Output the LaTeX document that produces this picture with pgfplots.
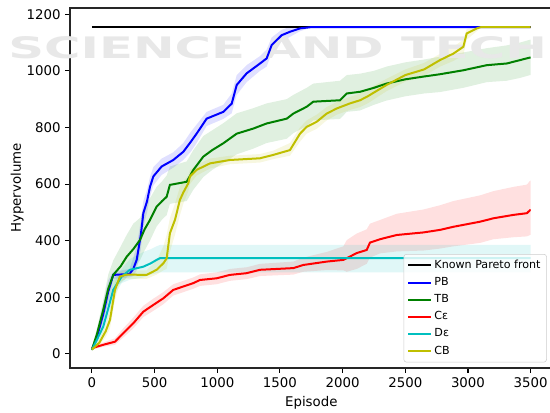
\documentclass[border=0pt]{standalone}
\usepackage{pgfplots}
\pgfplotsset{compat=1.18}
\usepgfplotslibrary{fillbetween}
\usepackage{fontspec}
\setmainfont{DejaVu Sans}
\definecolor{mplb}{rgb}{0,0,1}
\definecolor{mplg}{rgb}{0,0.5,0}
\definecolor{mplr}{rgb}{1,0,0}
\definecolor{mplc}{rgb}{0,0.75,0.75}
\definecolor{mply}{rgb}{0.75,0.75,0}
\begin{document}
\begin{tikzpicture}
\node[anchor=south west, inner sep=0pt, text=black!9] at (-46.5pt,231.5pt) {\resizebox{404pt}{16.5pt}{\bfseries SCIENCE AND TECH}};
\begin{axis}[
  scale only axis, width=361.9pt, height=270pt,
  xmin=-175, xmax=3675, ymin=-50, ymax=1222,
  xtick={0,500,...,3500}, ytick={0,200,...,1200},
  /pgf/number format/assume math mode=true,
  /pgf/number format/set thousands separator={},
  tick label style={font=\fontsize{10}{12}\selectfont},
  label style={font=\fontsize{10}{12}\selectfont},
  xlabel={Episode}, ylabel={Hypervolume}, ylabel shift=-4.5pt,
  tick align=outside, major tick length=3.5pt,
  xtick pos=bottom, ytick pos=left,
  axis line style={line width=0.8pt, black!85},
  every tick/.style={black, line width=0.8pt},
  legend style={at={(0.988,0.0155)}, anchor=south east, draw=black!20, rounded corners=2pt,
     fill=white, fill opacity=0.8, text opacity=1, font=\fontsize{8.33}{10}\selectfont,
     row sep=1.2pt, inner sep=2.5pt},
  legend image code/.code={\draw[#1] (0pt,0pt) -- (17pt,0pt);},
  legend cell align=left,
  every axis plot/.append style={line width=1.5pt},
]
% Known Pareto front
\addplot[black] coordinates {(0,1154) (3500,1154)};
\addlegendentry{Known Pareto front}

% PB
\addplot[name path=pbU, draw=none, forget plot] coordinates {
(0,20) (40,80) (90,175) (130,260) (170,290) (300,300) (330,340) (357,380) (390,470) (410,540) (440,580) (463,625) (490,660) (556,690) (649,712) (729,745) (790,785) (835,810) (915,855) (1048,880) (1115,920) (1155,985) (1234,1020) (1341,1052) (1394,1075) (1434,1118) (1514,1145) (1580,1155) (1660,1158) (1740,1156) (3500,1156)};
\addplot[name path=pbL, draw=none, forget plot] coordinates {
(0,10) (40,45) (90,110) (130,185) (170,265) (300,270) (330,275) (357,295) (390,370) (410,450) (440,500) (463,555) (490,595) (556,632) (649,658) (729,685) (790,715) (835,745) (915,805) (1048,830) (1115,850) (1155,915) (1234,960) (1341,1000) (1394,1015) (1434,1062) (1514,1105) (1580,1120) (1660,1140) (1740,1152) (3500,1152)};
\addplot[mplb, fill opacity=0.12, forget plot] fill between[of=pbU and pbL];
\addplot[mplb] coordinates {
(0,15) (40,60) (90,140) (130,220) (170,279) (300,282) (330,300) (357,332) (390,420) (410,497) (440,540) (463,590) (490,627) (556,662) (649,685) (729,714) (790,750) (835,778) (915,831) (1048,855) (1115,884) (1155,950) (1234,991) (1341,1026) (1394,1044) (1434,1091) (1514,1126) (1580,1138) (1660,1150) (1740,1154) (3500,1154)};
\addlegendentry{PB}

% TB
\addplot[name path=tbU, draw=none, forget plot] coordinates {
(0,20) (40,90) (90,190) (130,280) (170,330) (230,380) (277,420) (330,460) (383,480) (420,520) (463,550) (516,590) (560,610) (596,630) (622,662) (756,680) (809,720) (889,770) (960,790) (1048,815) (1155,850) (1287,868) (1394,885) (1554,900) (1607,915) (1713,940) (1766,955) (1979,965) (2033,985) (2139,990) (2250,1000) (2350,1015) (2500,1030) (2650,1040) (2777,1050) (2963,1065) (3150,1080) (3310,1090) (3416,1100) (3495,1110) (3500,1110)};
\addplot[name path=tbL, draw=none, forget plot] coordinates {
(0,10) (40,50) (90,120) (130,180) (170,230) (230,250) (277,270) (330,300) (383,330) (420,365) (463,400) (516,450) (560,475) (596,490) (622,530) (756,540) (809,580) (889,625) (960,650) (1048,675) (1155,705) (1287,725) (1394,745) (1554,760) (1607,780) (1713,805) (1766,825) (1979,830) (2033,855) (2139,860) (2250,880) (2350,895) (2500,910) (2650,920) (2777,925) (2963,940) (3150,960) (3310,965) (3416,975) (3495,985) (3500,985)};
\addplot[mplg, fill opacity=0.12, forget plot] fill between[of=tbU and tbL];
\addplot[mplg] coordinates {
(0,15) (40,70) (90,155) (130,230) (170,279) (230,310) (277,343) (330,370) (383,402) (420,440) (463,473) (516,520) (560,540) (596,555) (622,597) (756,608) (809,650) (889,697) (960,720) (1048,744) (1155,778) (1287,796) (1394,814) (1554,831) (1607,849) (1713,873) (1766,891) (1979,896) (2033,920) (2139,926) (2250,940) (2350,955) (2500,970) (2650,980) (2777,988) (2963,1002) (3150,1020) (3310,1026) (3416,1038) (3495,1047) (3500,1047)};
\addlegendentry{TB}

% C eps
\addplot[name path=ceU, draw=none, forget plot] coordinates {
(0,25) (90,40) (184,55) (250,90) (330,128) (410,170) (490,195) (569,218) (649,246) (729,258) (809,270) (862,281) (995,288) (1101,300) (1234,306) (1341,318) (1607,326) (1686,340) (1873,360) (2006,380) (2033,402) (2112,425) (2192,440) (2218,460) (2298,473) (2432,495) (2644,510) (2777,525) (2884,540) (3097,560) (3203,575) (3363,590) (3470,598) (3496,612) (3500,612)};
\addplot[name path=ceL, draw=none, forget plot] coordinates {
(0,15) (90,25) (184,32) (250,58) (330,90) (410,130) (490,152) (569,175) (649,206) (729,218) (809,230) (862,240) (995,246) (1101,258) (1234,264) (1341,275) (1607,280) (1686,290) (1873,296) (2006,295) (2033,290) (2112,300) (2192,318) (2218,340) (2298,355) (2432,362) (2644,365) (2777,372) (2884,380) (3097,392) (3203,405) (3363,412) (3470,415) (3496,420) (3500,420)};
\addplot[mplr, fill opacity=0.12, forget plot] fill between[of=ceU and ceL];
\addplot[mplr] coordinates {
(0,20) (90,32) (184,43) (250,73) (330,108) (410,149) (490,173) (569,196) (649,226) (729,238) (809,250) (862,261) (995,267) (1101,279) (1234,285) (1341,297) (1607,303) (1686,314) (1873,326) (2006,332) (2033,338) (2112,356) (2192,367) (2218,393) (2298,405) (2432,420) (2644,429) (2777,438) (2884,449) (3097,467) (3203,479) (3363,491) (3470,497) (3496,508) (3500,508)};
\addlegendentry{Cε}

% D eps
\addplot[name path=deU, draw=none, forget plot] coordinates {
(0,20) (40,65) (90,120) (130,190) (170,260) (237,300) (303,335) (410,360) (470,370) (516,380) (543,385) (3500,385)};
\addplot[name path=deL, draw=none, forget plot] coordinates {
(0,10) (40,35) (90,75) (130,130) (170,200) (237,250) (303,262) (410,270) (470,280) (516,285) (543,288) (3500,288)};
\addplot[mplc, fill opacity=0.12, forget plot] fill between[of=deU and deL];
\addplot[mplc] coordinates {
(0,15) (40,50) (90,96) (130,160) (170,226) (237,273) (303,297) (410,308) (470,320) (516,332) (543,338) (3500,338)};
\addlegendentry{Dε}

% CB
\addplot[name path=cbU, draw=none, forget plot] coordinates {
(0,20) (60,55) (110,100) (144,160) (184,255) (223,290) (277,295) (436,295) (516,330) (570,380) (596,420) (622,480) (662,530) (702,590) (729,610) (769,630) (782,650) (835,668) (942,690) (1101,700) (1341,706) (1447,718) (1580,745) (1660,800) (1713,825) (1793,845) (1873,872) (1953,890) (2059,908) (2139,920) (2200,935) (2350,972) (2500,1005) (2650,1028) (2777,1060) (2884,1085) (2963,1110) (2990,1148) (3070,1156) (3100,1156) (3500,1156)};
\addplot[name path=cbL, draw=none, forget plot] coordinates {
(0,10) (60,30) (110,60) (144,90) (184,190) (223,255) (277,265) (436,265) (516,280) (570,295) (596,300) (622,360) (662,420) (702,490) (729,530) (769,575) (782,600) (835,630) (942,655) (1101,670) (1341,676) (1447,688) (1580,700) (1660,750) (1713,778) (1793,795) (1873,825) (1953,845) (2059,862) (2139,872) (2200,885) (2350,928) (2500,962) (2650,982) (2777,1015) (2884,1035) (2963,1055) (2990,1110) (3070,1140) (3100,1152) (3500,1152)};
\addplot[mply, fill opacity=0.12, forget plot] fill between[of=cbU and cbL];
\addplot[mply] coordinates {
(0,15) (60,40) (110,80) (144,120) (184,226) (223,273) (277,280) (436,279) (516,297) (570,320) (596,337) (622,426) (662,473) (702,544) (729,570) (769,603) (782,627) (835,650) (942,673) (1101,685) (1341,691) (1447,703) (1580,720) (1660,778) (1713,802) (1793,820) (1873,849) (1953,867) (2059,885) (2139,896) (2200,910) (2350,950) (2500,985) (2650,1005) (2777,1038) (2884,1061) (2963,1085) (2990,1132) (3070,1150) (3100,1154) (3500,1154)};
\addlegendentry{CB}
\end{axis}
\pgfresetboundingbox
\path (-52.5pt,-33pt) rectangle (360pt,276pt);
\end{tikzpicture}
\end{document}
